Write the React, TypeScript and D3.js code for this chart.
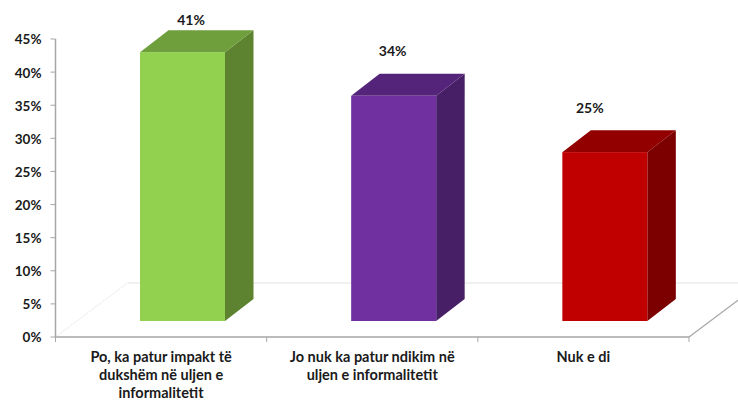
import React from 'react';
import * as d3 from 'd3';

const categories = ['po', 'jo', 'nuk'];
const categoryLines = [
  ['Po, ka patur impakt të', 'dukshëm në uljen e', 'informalitetit'],
  ['Jo nuk ka patur ndikim në', 'uljen e informalitetit'],
  ['Nuk e di'],
];
const values = [40.6, 34, 25.5];
const valueLabels = ['41%', '34%', '25%'];
const yTicks = [0, 5, 10, 15, 20, 25, 30, 35, 40, 45];

const frontColors = ['#92d050', '#7030a0', '#c00000'];
const topColors = ['#6f9e3c', '#54247a', '#920000'];
const sideColors = ['#5e8330', '#471f66', '#7c0000'];

// hand placed labels, they are not centred on the bars in the original
const labelShift = [
  { dx: 8.5, dy: -27.5 },
  { dx: -1, dy: -40 },
  { dx: -15, dy: -39 },
];

const width = 738;
const height = 400;
const font = 'Lato, sans-serif';

const x = d3.scaleBand<string>().domain(categories).range([55.5, 689]);
const y = d3.scaleLinear().domain([0, 45]).range([337, 39]);

const barOffset = 84.5;
const barWidth = 85;
const barLift = 16;
const depthX = 28.5;
const depthY = 22;
const floorX = 72;
const floorY = 54;

const poly = d3.line();

export default function App() {
  const bottom = y(0);
  const left = x.range()[0];
  const right = x.range()[1];
  const xTicks = [...categories.map((c) => x(c) as number), right];

  return (
    <svg
      width={width}
      height={height}
      viewBox={`0 0 ${width} ${height}`}
      style={{ position: 'absolute', left: 0, top: 0, background: '#fff' }}
    >
      {/* floor */}
      <line x1={left + floorX} x2={width} y1={bottom - floorY} y2={bottom - floorY} stroke="#e2e2e2" strokeWidth={1} />
      <line x1={left} y1={bottom} x2={left + floorX} y2={bottom - floorY} stroke="#d4d4d4" strokeWidth={1} strokeDasharray="1 1.5" />
      <line x1={right} y1={bottom} x2={right + floorX} y2={bottom - floorY} stroke="#a6a6a6" strokeWidth={1.2} />

      {/* axes */}
      <line x1={left} x2={left} y1={y(45)} y2={bottom} stroke="#a6a6a6" strokeWidth={1.5} />
      <line x1={left} x2={right} y1={bottom} y2={bottom} stroke="#a6a6a6" strokeWidth={1.5} />
      {yTicks.map((t) => (
        <g key={t}>
          <line x1={left - 5} x2={left} y1={y(t)} y2={y(t)} stroke="#a6a6a6" strokeWidth={1} />
          <text x={41.5} y={y(t)} dy="0.4em" textAnchor="end" fontFamily={font} fontWeight={700} fontSize={13.5} fill="#1a1a1a">
            {t}%
          </text>
        </g>
      ))}
      {xTicks.map((t) => (
        <line key={t} x1={t} x2={t} y1={bottom} y2={bottom + 5} stroke="#a6a6a6" strokeWidth={1} />
      ))}

      {/* bars, the front face sits above the axis because of the 3d floor */}
      {categories.map((c, i) => {
        const x0 = (x(c) as number) + barOffset;
        const x1 = x0 + barWidth;
        const yBase = bottom - barLift;
        const top = y(values[i]) - barLift;
        return (
          <g key={c}>
            <path
              d={poly([[x1, top], [x1 + depthX, top - depthY], [x1 + depthX, yBase - depthY], [x1, yBase]]) as string}
              fill={sideColors[i]}
            />
            <path
              d={poly([[x0, top], [x0 + depthX, top - depthY], [x1 + depthX, top - depthY], [x1, top]]) as string}
              fill={topColors[i]}
            />
            <rect x={x0} y={top} width={barWidth} height={yBase - top} fill={frontColors[i]} />
            <text
              x={x0 + barWidth / 2 + labelShift[i].dx}
              y={top + labelShift[i].dy}
              textAnchor="middle"
              fontFamily={font}
              fontWeight={700}
              fontSize={14}
              fill="#1a1a1a"
            >
              {valueLabels[i]}
            </text>
          </g>
        );
      })}

      {/* category labels */}
      {categories.map((c, i) => (
        <text key={c} textAnchor="middle" fontFamily={font} fontWeight={700} fontSize={14.5} fill="#1a1a1a">
          {categoryLines[i].map((line, j) => (
            <tspan key={j} x={(x(c) as number) + x.bandwidth() / 2} y={362 + j * 18}>
              {line}
            </tspan>
          ))}
        </text>
      ))}
    </svg>
  );
}
